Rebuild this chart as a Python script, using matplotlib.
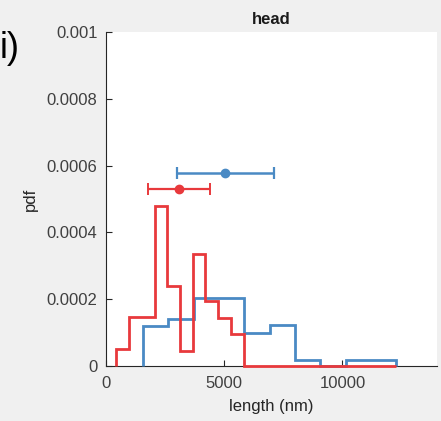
import matplotlib
matplotlib.use('Agg')
import matplotlib.pyplot as plt
import numpy as np

plt.rcParams['font.family'] = ['Liberation Sans', 'DejaVu Sans']

# red histogram (bin edges in nm, pdf heights)
red_edges = [450, 987, 1524, 2061, 2598, 3135, 3672, 4209, 4746, 5283, 5820, 12270]
red_pdf = [0.00005, 0.000147, 0.000147, 0.00048, 0.00024, 0.000045,
           0.000335, 0.000193, 0.000143, 0.000095, 0.0]

# blue histogram
blue_edges = [1575, 2645, 3715, 4785, 5855, 6925, 7995, 9065, 10135, 11205, 12275]
blue_pdf = [0.00012, 0.00014, 0.000202, 0.000202, 0.000098, 0.000122,
            0.000017, 0.0, 0.000017, 0.000017]

# mean +/- sd markers
blue_mean, blue_sd, blue_y = 5050, 2060, 0.000577
red_mean, red_sd, red_y = 3100, 1300, 0.00053

blue = '#4a8ac4'
red = '#e8393c'

fig = plt.figure(figsize=(4.41, 4.21), dpi=100, facecolor='#f0f0f0')
ax = fig.add_axes([0.240, 0.131, 0.751, 0.793])
ax.set_facecolor('white')

ax.stairs(blue_pdf, blue_edges, color=blue, linewidth=2.0, baseline=0,
          clip_on=False, zorder=3)
ax.stairs(red_pdf, red_edges, color=red, linewidth=2.0, baseline=0,
          clip_on=False, zorder=4)

ax.errorbar([blue_mean], [blue_y], xerr=[blue_sd], fmt='o', color=blue,
            markersize=6, elinewidth=1.8, capsize=4, capthick=1.6, zorder=5)
ax.errorbar([red_mean], [red_y], xerr=[red_sd], fmt='o', color=red,
            markersize=6, elinewidth=1.6, capsize=4, capthick=1.4, zorder=5)

ax.set_xlim(0, 14000)
ax.set_ylim(0, 0.001)
ax.set_xticks([0, 5000, 10000])
ax.set_xticklabels(['0', '5000', '10000'])
ax.set_yticks([0, 0.0002, 0.0004, 0.0006, 0.0008, 0.001])
ax.set_yticklabels(['0', '0.0002', '0.0004', '0.0006', '0.0008', '0.001'])
ax.tick_params(direction='in', length=4, width=0.8, labelsize=12,
               colors='#262626', labelcolor='#404040')
ax.tick_params(axis='x', pad=7)
ax.tick_params(axis='y', pad=6)
for s in ['top', 'right']:
    ax.spines[s].set_visible(False)
for s in ['left', 'bottom']:
    ax.spines[s].set_color('#262626')
    ax.spines[s].set_linewidth(0.8)
    ax.spines[s].set_zorder(1)

ax.set_xlabel('length (nm)', fontsize=12, color='#262626', labelpad=6)
ax.set_ylabel('pdf', fontsize=12, color='#262626', labelpad=6)
ax.set_title('head', fontsize=12, fontweight='bold', color='#1a1a1a', pad=6)

fig.text(0.0, 0.885, 'i)', fontsize=26, color='black', va='center', ha='left')

plt.savefig('out.png', dpi=100, facecolor=fig.get_facecolor())
